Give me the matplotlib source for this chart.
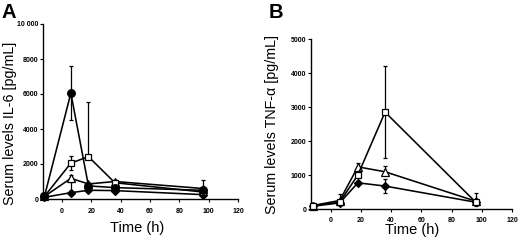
import matplotlib
matplotlib.use("Agg")
import matplotlib.pyplot as plt

plt.rcParams['font.family'] = ['Liberation Sans', 'DejaVu Sans']

# ---- data ----
time_h = [-12, 6, 18, 36, 96]

# Panel A: IL-6 (pg/mL)
il6_circle = [150, 6050, 750, 650, 500]
il6_circle_lo = [0, 1550, 0, 0, 0]
il6_circle_hi = [0, 1550, 0, 0, 600]
il6_square = [150, 2050, 2420, 930, 400]
il6_square_lo = [0, 380, 0, 0, 0]
il6_square_hi = [0, 420, 3100, 0, 0]
il6_triangle = [150, 1180, 860, 1000, 600]
il6_triangle_lo = [0, 0, 0, 0, 0]
il6_triangle_hi = [0, 200, 0, 100, 0]
il6_diamond = [100, 360, 500, 480, 250]
il6_diamond_lo = [0, 0, 0, 0, 0]
il6_diamond_hi = [0, 600, 0, 0, 0]

# Panel B: TNF-alpha (pg/mL)
tnf_square = [100, 200, 1000, 2850, 200]
tnf_square_lo = [0, 0, 0, 1340, 0]
tnf_square_hi = [0, 0, 0, 1350, 0]
tnf_triangle = [100, 250, 1240, 1095, 230]
tnf_triangle_lo = [0, 0, 0, 0, 0]
tnf_triangle_hi = [0, 200, 100, 170, 230]
tnf_diamond = [80, 180, 770, 675, 200]
tnf_diamond_lo = [0, 0, 0, 215, 100]
tnf_diamond_hi = [0, 0, 0, 200, 0]

x_ticks = [0, 20, 40, 60, 80, 100, 120]
il6_ticks = [0, 2000, 4000, 6000, 8000, 10000]
il6_ticklabels = ['0', '2000', '4000', '6000', '8000', '10 000']
tnf_ticks = [0, 1000, 2000, 3000, 4000, 5000]
tnf_ticklabels = ['0', '1000', '2000', '3000', '4000', '5000']

styles = {
    'circle': dict(marker='o', mfc='black', ms=5.5),
    'square': dict(marker='s', mfc='white', ms=5),
    'triangle': dict(marker='^', mfc='white', ms=5.5),
    'diamond': dict(marker='D', mfc='black', ms=4.5),
}

fig = plt.figure(figsize=(5.2, 2.42), dpi=100)
axA = fig.add_axes([43/520, 1-199/242, (238-43)/520, (199-24)/242])
axB = fig.add_axes([311/520, 1-209/242, (512-311)/520, (209-39)/242])


def draw(ax, name, y, lo, hi, z):
    st = styles[name]
    ax.errorbar(time_h, y, yerr=[lo, hi], color='black', lw=1.15,
                elinewidth=0.9, capsize=1.6, capthick=0.9,
                marker=st['marker'], mfc=st['mfc'], mec='black',
                mew=0.9, ms=st['ms'], zorder=z, clip_on=False)


draw(axA, 'diamond', il6_diamond, il6_diamond_lo, il6_diamond_hi, 3)
draw(axA, 'triangle', il6_triangle, il6_triangle_lo, il6_triangle_hi, 4)
draw(axA, 'square', il6_square, il6_square_lo, il6_square_hi, 5)
draw(axA, 'circle', il6_circle, il6_circle_lo, il6_circle_hi, 6)

draw(axB, 'diamond', tnf_diamond, tnf_diamond_lo, tnf_diamond_hi, 3)
draw(axB, 'triangle', tnf_triangle, tnf_triangle_lo, tnf_triangle_hi, 4)
draw(axB, 'square', tnf_square, tnf_square_lo, tnf_square_hi, 5)

for ax, ticks, labels, ymax, xpad in [(axA, il6_ticks, il6_ticklabels, 10000, 4.3),
                                      (axB, tnf_ticks, tnf_ticklabels, 5000, 3.1)]:
    ax.set_xlim(-13, 120)
    ax.set_ylim(0, ymax)
    ax.set_xticks(x_ticks)
    ax.set_yticks(ticks)
    ax.set_yticklabels(labels)
    for s in ['top', 'right']:
        ax.spines[s].set_visible(False)
    for s in ['left', 'bottom']:
        ax.spines[s].set_linewidth(1.0)
    ax.tick_params(axis='x', length=2.5, width=0.8, pad=xpad, labelsize=5)
    ax.tick_params(axis='y', length=2.0, width=0.8, pad=1.5, labelsize=5)
    for lab in ax.get_xticklabels() + ax.get_yticklabels():
        lab.set_fontweight('bold')

fig.text(137/520, 1-228/242, 'Time (h)', fontsize=10.5, ha='center', va='center')
fig.text(412/520, 1-230/242, 'Time (h)', fontsize=10.5, ha='center', va='center')
fig.text(10/520, 1-123/242, 'Serum levels IL-6 [pg/mL]', fontsize=10.3,
         rotation=90, ha='center', va='center')
fig.text(272/520, 1-124/242, 'Serum levels TNF-\u03b1 [pg/mL]', fontsize=10.3,
         rotation=90, ha='center', va='center')
fig.text(2/520, 1-12/242, 'A', fontsize=14.5, fontweight='bold', ha='left', va='center')
fig.text(269/520, 1-12/242, 'B', fontsize=14.5, fontweight='bold', ha='left', va='center')

fig.savefig('out.png', dpi=100)
